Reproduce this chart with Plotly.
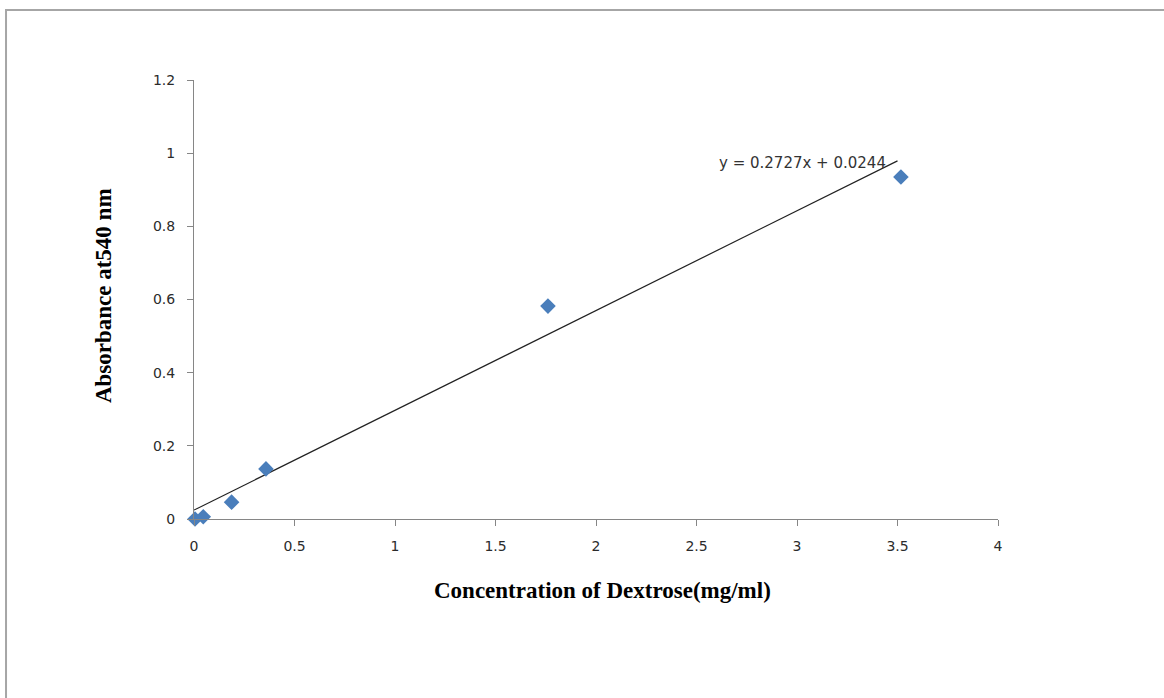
import plotly.graph_objects as go

conc = [0.005, 0.046, 0.187, 0.358, 1.761, 3.517]
absorb = [0.0, 0.006, 0.046, 0.137, 0.582, 0.935]
slope = 0.2727
intercept = 0.0244
fit_x = [0.0, 3.5]
x_ticks = [0, 0.5, 1, 1.5, 2, 2.5, 3, 3.5, 4]
y_ticks = [0, 0.2, 0.4, 0.6, 0.8, 1.0, 1.2]
y_tick_text = ["0", "0.2", "0.4", "0.6", "0.8", "1", "1.2"]
x_title = "Concentration of Dextrose(mg/ml)"
y_title = "Absorbance at540 nm"
equation = "y = 0.2727x + 0.0244"

fig = go.Figure()
fig.add_trace(go.Scatter(
    x=fit_x, y=[slope * v + intercept for v in fit_x], mode="lines",
    line=dict(color="#222222", width=1.2), showlegend=False, cliponaxis=False))
fig.add_trace(go.Scatter(
    x=conc, y=absorb, mode="markers",
    marker=dict(symbol="diamond", size=12, color="#4a7ebb"),
    showlegend=False, cliponaxis=False))

fig.add_annotation(x=3.025, y=0.973, xref="x", yref="y",
                   text=equation, showarrow=False, xanchor="center", yanchor="middle",
                   font=dict(family="DejaVu Sans", size=15, color="#333333"))

fig.add_annotation(x=0.5087, y=-0.164, xref="paper", yref="paper",
                   text="<b>" + x_title + "</b>", showarrow=False,
                   xanchor="center", yanchor="middle",
                   font=dict(family="Liberation Serif", size=23, color="#000000"))
fig.add_annotation(x=-0.1132, y=0.51, xref="paper", yref="paper",
                   text="<b>" + y_title + "</b>", showarrow=False, textangle=-90,
                   xanchor="center", yanchor="middle",
                   font=dict(family="Liberation Serif", size=23, color="#000000"))

fig.add_shape(type="rect", xref="paper", yref="paper",
              x0=-0.2338, x1=1.4, y0=-0.6, y1=1.1595,
              line=dict(color="#a6a6a6", width=2), layer="below")

tickfont = dict(family="DejaVu Sans", size=14, color="#2b2b2b")
fig.update_layout(
    width=1164, height=698,
    margin=dict(l=194, r=166, t=80, b=179),
    paper_bgcolor="white", plot_bgcolor="white",
    xaxis=dict(range=[0, 4], tickvals=x_ticks, ticktext=[str(t) for t in x_ticks],
               showgrid=False, zeroline=False, showline=True, linecolor="#868686",
               linewidth=1, ticks="outside", ticklen=6, tickcolor="#868686",
               tickfont=tickfont, ticklabelstandoff=8),
    yaxis=dict(range=[0, 1.2], tickvals=y_ticks, ticktext=y_tick_text,
               showgrid=False, zeroline=False, showline=True, linecolor="#868686",
               linewidth=1, ticks="outside", ticklen=6, tickcolor="#868686",
               tickfont=tickfont, ticklabelstandoff=9),
)
fig.write_html("out.html", config={"displayModeBar": False},
               post_script="document.body.style.margin='0';")
